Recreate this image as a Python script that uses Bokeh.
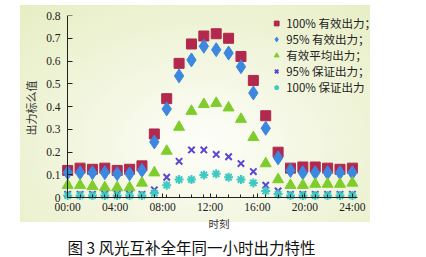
from bokeh.plotting import figure
from bokeh.models import (FixedTicker, CustomJSTickFormatter, Legend, LegendItem,
                          ColumnDataSource, LinearAxis, Title)
from bokeh.embed import file_html
from bokeh.resources import INLINE

# ---- data (24 points, 00:00 .. 24:00) ----
idx = list(range(24))
eff100 = [0.12, 0.13, 0.125, 0.13, 0.12, 0.125, 0.14, 0.28, 0.435, 0.59, 0.675, 0.71,
          0.72, 0.70, 0.62, 0.515, 0.36, 0.20, 0.13, 0.135, 0.135, 0.13, 0.125, 0.13]
eff95 = [0.11, 0.11, 0.11, 0.11, 0.105, 0.105, 0.12, 0.245, 0.39, 0.535, 0.605, 0.665,
         0.65, 0.635, 0.575, 0.46, 0.305, 0.175, 0.12, 0.11, 0.11, 0.11, 0.11, 0.11]
eff_avg = [0.055, 0.055, 0.05, 0.045, 0.045, 0.045, 0.065, 0.11, 0.205, 0.31, 0.38, 0.41,
           0.415, 0.395, 0.345, 0.265, 0.15, 0.08, 0.055, 0.055, 0.06, 0.06, 0.06, 0.065]
gua95 = [0.015, 0.015, 0.015, 0.015, 0.015, 0.015, 0.015, 0.035, 0.09, 0.16, 0.21, 0.21,
         0.19, 0.18, 0.15, 0.115, 0.055, 0.03, 0.015, 0.015, 0.015, 0.015, 0.015, 0.015]
gua100 = [0.01, 0.01, 0.01, 0.01, 0.01, 0.01, 0.01, 0.02, 0.055, 0.08, 0.08, 0.10,
          0.105, 0.09, 0.08, 0.065, 0.03, 0.015, 0.01, 0.01, 0.01, 0.01, 0.01, 0.01]
x_tick_labels = ["00:00", "04:00", "08:00", "12:00", "16:00", "20:00", "24:00"]
y_ticks = [0, 0.1, 0.2, 0.3, 0.4, 0.5, 0.6, 0.7, 0.8]
y_tick_labels = ["0", "0.1", "0.2", "0.3", "0.4", "0.5", "0.6", "0.7", "0.8"]
legend_labels = ["100% 有效出力；", "95% 有效出力；", "有效平均出力；", "95% 保证出力；", "100% 保证出力"]
caption = "图 3  风光互补全年同一小时出力特性"
x_title = "时刻"
y_title = "出力标么值"

n = len(idx)
span = n - 1
serif = "Liberation Serif"
cjk = "Noto Sans CJK SC"
ink = "#222222"

p = figure(width=426, height=257, output_backend="svg", toolbar_location=None,
           x_range=(-0.5, 24.95), y_range=(-0.012, 0.8),
           min_border_left=61, min_border_right=50, min_border_top=15, min_border_bottom=56,
           background_fill_color=None, border_fill_color=None, outline_line_color=None)
p.styles = {"background": "radial-gradient(ellipse 75% 85% at 52% 64%, #fefefa 0%, #f3f6e0 45%, #e7eec4 100%) 20px 5px / 350px 217px no-repeat, #ffffff"}
p.grid.visible = False

src = ColumnDataSource(dict(x=idx, a=eff100, b=eff95, c=eff_avg, d=gua95, e=gua100))
r1 = p.scatter("x", "a", source=src, marker="square", size=10, fill_color="#b3284d", line_color="#b3284d")
r2 = p.scatter("x", "b", source=src, marker="diamond", size=14, fill_color="#3c88e0", line_color="#3c88e0")
r3 = p.scatter("x", "c", source=src, marker="triangle", size=11, fill_color="#7fcd2c", line_color="#7fcd2c")
r4 = p.scatter("x", "d", source=src, marker="x", size=9, line_color="#5b45d3", line_width=2)
r5 = p.scatter("x", "e", source=src, marker="asterisk", size=9, line_color="#3fc9c2", line_width=2)

x_major = [k * span / 6 for k in range(7)]
x_fmt = CustomJSTickFormatter(args=dict(labels=x_tick_labels, span=span),
                              code="return labels[Math.round(tick*6/span)];")
blank = CustomJSTickFormatter(code="return '';")

# label-only x axis (border)
xb = p.xaxis[0]
xb.ticker = FixedTicker(ticks=x_major)
xb.formatter = x_fmt
xb.axis_line_color = None
xb.major_tick_line_color = None
xb.minor_tick_line_color = None
xb.major_tick_out = 0
xb.major_label_standoff = 0
xb.major_label_text_font = serif
xb.major_label_text_font_size = "11.5px"
xb.major_label_text_line_height = 1.0
xb.major_label_text_color = ink
xb.axis_label = x_title
xb.axis_label_standoff = 0
xb.axis_label_text_font = cjk
xb.axis_label_text_font_size = "10.5px"
xb.axis_label_text_line_height = 1.0
xb.axis_label_text_font_style = "normal"
xb.axis_label_text_color = "#333333"

# line + ticks x axis at y = 0
xa = LinearAxis(fixed_location=0, bounds=(0, span + 0.4),
                ticker=FixedTicker(ticks=x_major, minor_ticks=idx), formatter=blank,
                major_tick_in=4, major_tick_out=0, minor_tick_in=3, minor_tick_out=0,
                major_label_standoff=0, major_label_text_font_size="0px",
                axis_line_color=ink, major_tick_line_color=ink, minor_tick_line_color=ink)
p.add_layout(xa, "below")

# label-only y axis (border)
yb = p.yaxis[0]
yb.ticker = FixedTicker(ticks=y_ticks)
yb.major_label_overrides = {t: l for t, l in zip(y_ticks, y_tick_labels)}
yb.axis_line_color = None
yb.major_tick_line_color = None
yb.minor_tick_line_color = None
yb.major_tick_out = 0
yb.major_label_standoff = 1
yb.major_label_text_font = serif
yb.major_label_text_font_size = "11.5px"
yb.major_label_text_color = ink
yb.axis_label = y_title
yb.axis_label_standoff = 4
yb.axis_label_text_font = cjk
yb.axis_label_text_font_size = "11px"
yb.axis_label_text_font_style = "normal"
yb.axis_label_text_color = "#333333"

# line + ticks y axis at x = 0
ya = LinearAxis(fixed_location=0, bounds=(0, 0.8), ticker=FixedTicker(ticks=y_ticks),
                formatter=blank, major_tick_in=5, major_tick_out=0,
                major_label_standoff=0, major_label_text_font_size="0px",
                minor_tick_line_color=None, axis_line_color=ink, major_tick_line_color=ink)
p.add_layout(ya, "left")

legend = Legend(items=[LegendItem(label=legend_labels[i], renderers=[r])
                       for i, r in enumerate([r1, r2, r3, r4, r5])],
                location="top_right", background_fill_alpha=0, border_line_color=None,
                label_text_font=cjk, label_text_font_size="11.5px", label_text_color=ink,
                glyph_width=12, glyph_height=12, label_height=12, spacing=0,
                label_standoff=4, padding=2, margin=0)
p.add_layout(legend)

p.add_layout(Title(text=caption, align="left", offset=6, standoff=0, text_font=cjk,
                   text_font_size="15.5px", text_line_height=1.0, text_font_style="normal",
                   text_color="#111111"),
             "below")

open("out.html", "w").write(file_html(p, INLINE))
